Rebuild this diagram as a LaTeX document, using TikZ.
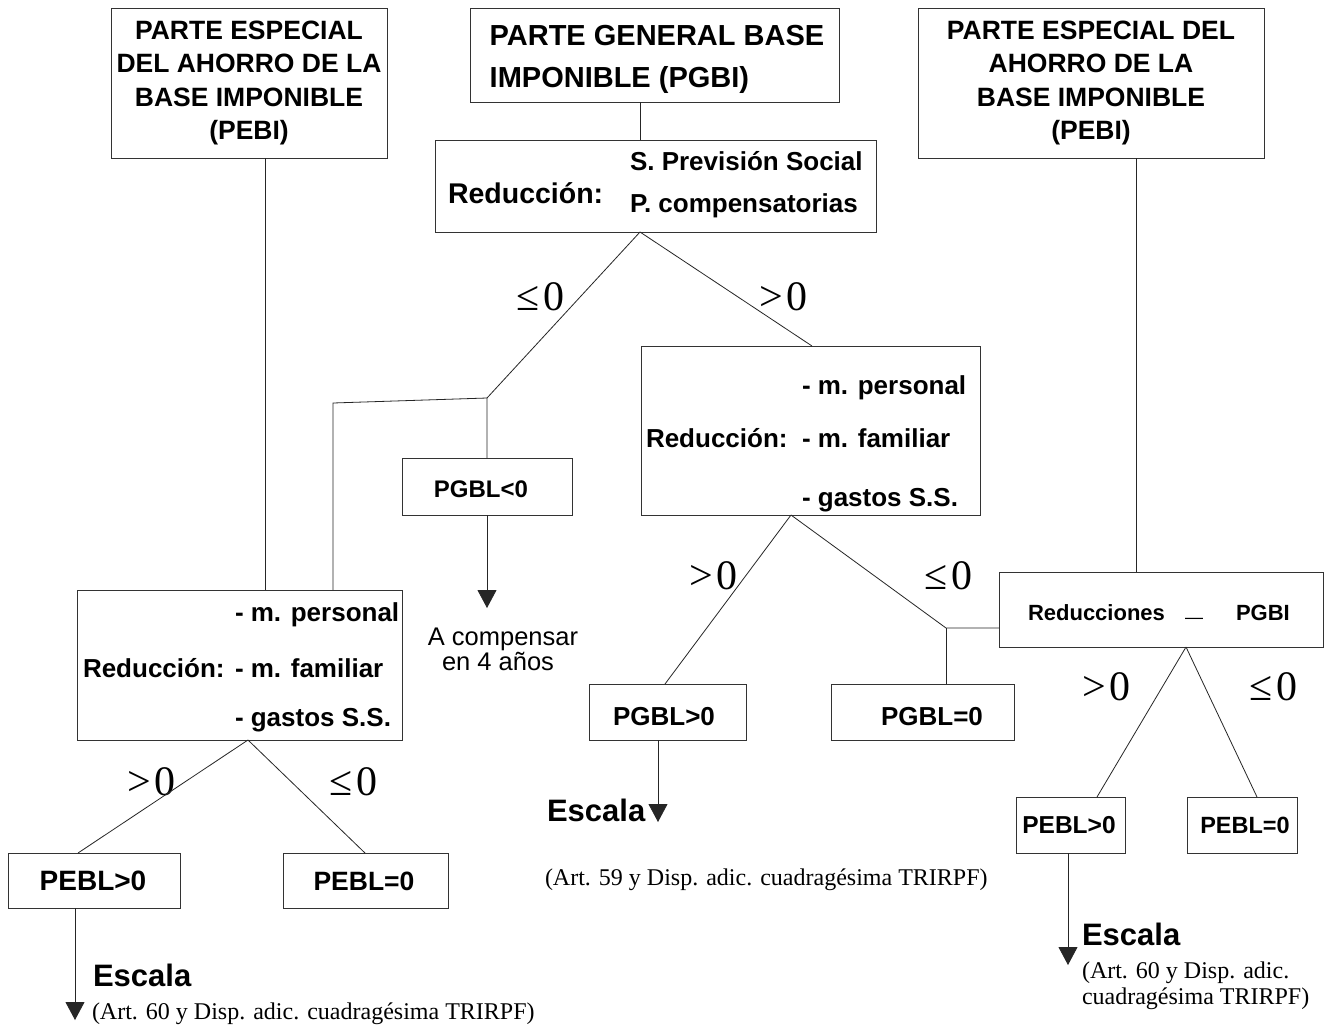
\documentclass[tikz,border=0pt]{standalone}
\usepackage{fontspec}
\setmainfont{Liberation Sans}
\newfontfamily\serifface{Liberation Serif}
\usetikzlibrary{arrows.meta}
\newcommand\myfs[2]{\fontsize{#1}{#2}\selectfont}
\begin{document}
\begin{tikzpicture}[x=1pt,y=-1pt,
  box/.style={draw=black!80, line width=0.9pt, inner sep=0pt, outer sep=0pt},
  conn/.style={draw=black!85, line width=0.8pt},
  arr/.style={conn, -{Triangle[length=18pt,width=19pt]}},
  txt/.style={inner sep=0pt, outer sep=0pt, anchor=base west},
  ctxt/.style={inner sep=0pt, outer sep=0pt, anchor=base},
  lbl/.style={inner sep=0pt, outer sep=0pt, anchor=base west, font=\serifface\myfs{42}{42}},
  bsm/.style={font=\bfseries\myfs{#1}{#1}}]
\useasboundingbox[fill=white] (0,0) rectangle (1325,1028);

% ---------- boxes ----------
\node[box, minimum width=276pt, minimum height=150pt, align=center, font=\bfseries\myfs{26.5}{33.5}] (A) at (249,83) {PARTE ESPECIAL\\DEL AHORRO DE LA\\BASE IMPONIBLE\\(PEBI)};
\node[box, minimum width=369pt, minimum height=94pt] (B) at (654.5,55) {};
\node[align=left, inner sep=0pt, font=\bfseries\myfs{29}{42}] (Bt) at (657,59) {PARTE GENERAL BASE\\IMPONIBLE (PGBI)};
\node[box, minimum width=346pt, minimum height=150pt, align=center, font=\bfseries\myfs{26.5}{33.5}] (C) at (1091,83) {PARTE ESPECIAL DEL\\AHORRO DE LA\\BASE IMPONIBLE\\(PEBI)};

\node[box, minimum width=441pt, minimum height=92pt] (D) at (655.5,186) {};
\node[txt, bsm=28.5] (Dr) at (448,203) {Reducción:};
\node[txt, bsm=26] (D1) at (630,170) {S. Previsión Social};
\node[txt, bsm=26] (D2) at (630,212) {P. compensatorias};

\node[box, minimum width=325pt, minimum height=150pt] (E) at (239.5,665) {};
\node[txt, bsm=26] (E1) at (235,621) {- m. personal};
\node[txt, bsm=26] (Er) at (83,677) {Reducción:};
\node[txt, bsm=26] (E2) at (235,677) {- m. familiar};
\node[txt, bsm=26] (E3) at (235,726) {- gastos S.S.};

\node[box, minimum width=339pt, minimum height=169pt] (F) at (810.5,430.5) {};
\node[txt, bsm=26] (F1) at (802,394) {- m. personal};
\node[txt, bsm=26] (Fr) at (646,447) {Reducción:};
\node[txt, bsm=26] (F2) at (802,447) {- m. familiar};
\node[txt, bsm=26] (F3) at (802,506) {- gastos S.S.};

\node[box, minimum width=324pt, minimum height=75pt] (G) at (1161,609.5) {};
\node[txt, bsm=22] (Gr) at (1028,620) {Reducciones};
\node[txt, font=\myfs{18}{18}] (Gd) at (1185,623) {—};
\node[txt, bsm=22] (Gp) at (1236,620) {PGBI};

\node[box, minimum width=170pt, minimum height=57pt] (PGBLneg) at (487,486.5) {};
\node[ctxt, bsm=24] (tPGBLneg) at (481,497) {PGBL<0};
\node[box, minimum width=157pt, minimum height=56pt] (PGBLpos) at (667.5,712) {};
\node[ctxt, bsm=26] (tPGBLpos) at (664,725) {PGBL>0};
\node[box, minimum width=183pt, minimum height=56pt] (PGBLzero) at (922.5,712) {};
\node[ctxt, bsm=26] (tPGBLzero) at (932,725) {PGBL=0};

\node[box, minimum width=172pt, minimum height=55pt] (PEBLposL) at (94,880.5) {};
\node[ctxt, bsm=28] (tPEBLposL) at (93,890) {PEBL>0};
\node[box, minimum width=165pt, minimum height=55pt] (PEBLzeroL) at (365.5,880.5) {};
\node[ctxt, bsm=26.5] (tPEBLzeroL) at (364,890) {PEBL=0};

\node[box, minimum width=109pt, minimum height=56pt] (PEBLposR) at (1070.5,825) {};
\node[ctxt, bsm=24.5] (tPEBLposR) at (1069,833) {PEBL>0};
\node[box, minimum width=110pt, minimum height=56pt] (PEBLzeroR) at (1242,825) {};
\node[ctxt, bsm=23.5] (tPEBLzeroR) at (1245,833) {PEBL=0};

% ---------- free texts ----------
\node[ctxt, font=\myfs{25.5}{26}] (comp1) at (503,645) {A compensar};
\node[ctxt, font=\myfs{25.5}{26}] (comp2) at (498,670) {en 4 años};

\node[txt, bsm=31] (esc1) at (547,821) {Escala};
\node[txt, font=\serifface\myfs{24}{24}] (art1) at (545,885) {(Art. 59 y Disp. adic. cuadragésima TRIRPF)};
\node[txt, bsm=31] (esc2) at (1082,945) {Escala};
\node[txt, font=\serifface\myfs{24}{24}] (art2a) at (1082,978) {(Art. 60 y Disp. adic.};
\node[txt, font=\serifface\myfs{24}{24}] (art2b) at (1082,1004) {cuadragésima TRIRPF)};
\node[txt, bsm=31] (esc3) at (93,986) {Escala};
\node[txt, font=\serifface\myfs{24}{24}] (art3) at (92,1019) {(Art. 60 y Disp. adic. cuadragésima TRIRPF)};

% ---------- branch labels ----------
\node[lbl] (l1) at (516,310) {≤\kern4pt0};
\node[lbl] (l2) at (759,310) {>\kern4pt0};
\node[lbl] (l3) at (689,589) {>\kern4pt0};
\node[lbl] (l4) at (924,589) {≤\kern4pt0};
\node[lbl] (l5) at (1082,700) {>\kern4pt0};
\node[lbl] (l6) at (1249,700) {≤\kern4pt0};
\node[lbl] (l7) at (127,795) {>\kern4pt0};
\node[lbl] (l8) at (329,795) {≤\kern4pt0};

% ---------- helper coordinates ----------
\coordinate (xA) at (265,0);
\coordinate (xD) at (640,0);
\coordinate (j1) at (487,398);
\coordinate (j2) at (333,403);
\coordinate (j3) at (946,628);
\coordinate (xF) at (812,0);
\coordinate (xFa) at (791,0);
\coordinate (xPp) at (665,0);
\coordinate (xPpa) at (658,0);
\coordinate (xC) at (1136,0);
\coordinate (xGa) at (1186,0);
\coordinate (xQ1) at (1097,0);
\coordinate (xQ2) at (1257,0);
\coordinate (xQa) at (1068,0);
\coordinate (xEa) at (248,0);
\coordinate (xL1) at (78,0);
\coordinate (xL2) at (365,0);
\coordinate (xLa) at (75,0);
\coordinate (t1) at (487,608);
\coordinate (t2) at (658,822);
\coordinate (t3) at (1068,965);
\coordinate (t4) at (75,1020);

% ---------- connectors ----------
\draw[conn] (A.south -| xA) -- (E.north -| xA);
\draw[conn] (B.south -| xD) -- (D.north -| xD);
\draw[conn] (D.south -| xD) -- (j1) -- (PGBLneg.north);
\draw[conn] (j1) -- (j2) -- (E.north -| j2);
\draw[conn] (D.south -| xD) -- (F.north -| xF);
\draw[arr] (PGBLneg.south) -- (t1);
\draw[conn] (F.south -| xFa) -- (PGBLpos.north -| xPp);
\draw[conn] (F.south -| xFa) -- (j3) -- (G.west |- j3);
\draw[conn] (j3) -- (PGBLzero.north -| j3);
\draw[arr] (PGBLpos.south -| xPpa) -- (t2);
\draw[conn] (C.south -| xC) -- (G.north -| xC);
\draw[conn] (G.south -| xGa) -- (PEBLposR.north -| xQ1);
\draw[conn] (G.south -| xGa) -- (PEBLzeroR.north -| xQ2);
\draw[arr] (PEBLposR.south -| xQa) -- (t3);
\draw[conn] (E.south -| xEa) -- (PEBLposL.north -| xL1);
\draw[conn] (E.south -| xEa) -- (PEBLzeroL.north -| xL2);
\draw[arr] (PEBLposL.south -| xLa) -- (t4);
\end{tikzpicture}
\end{document}
